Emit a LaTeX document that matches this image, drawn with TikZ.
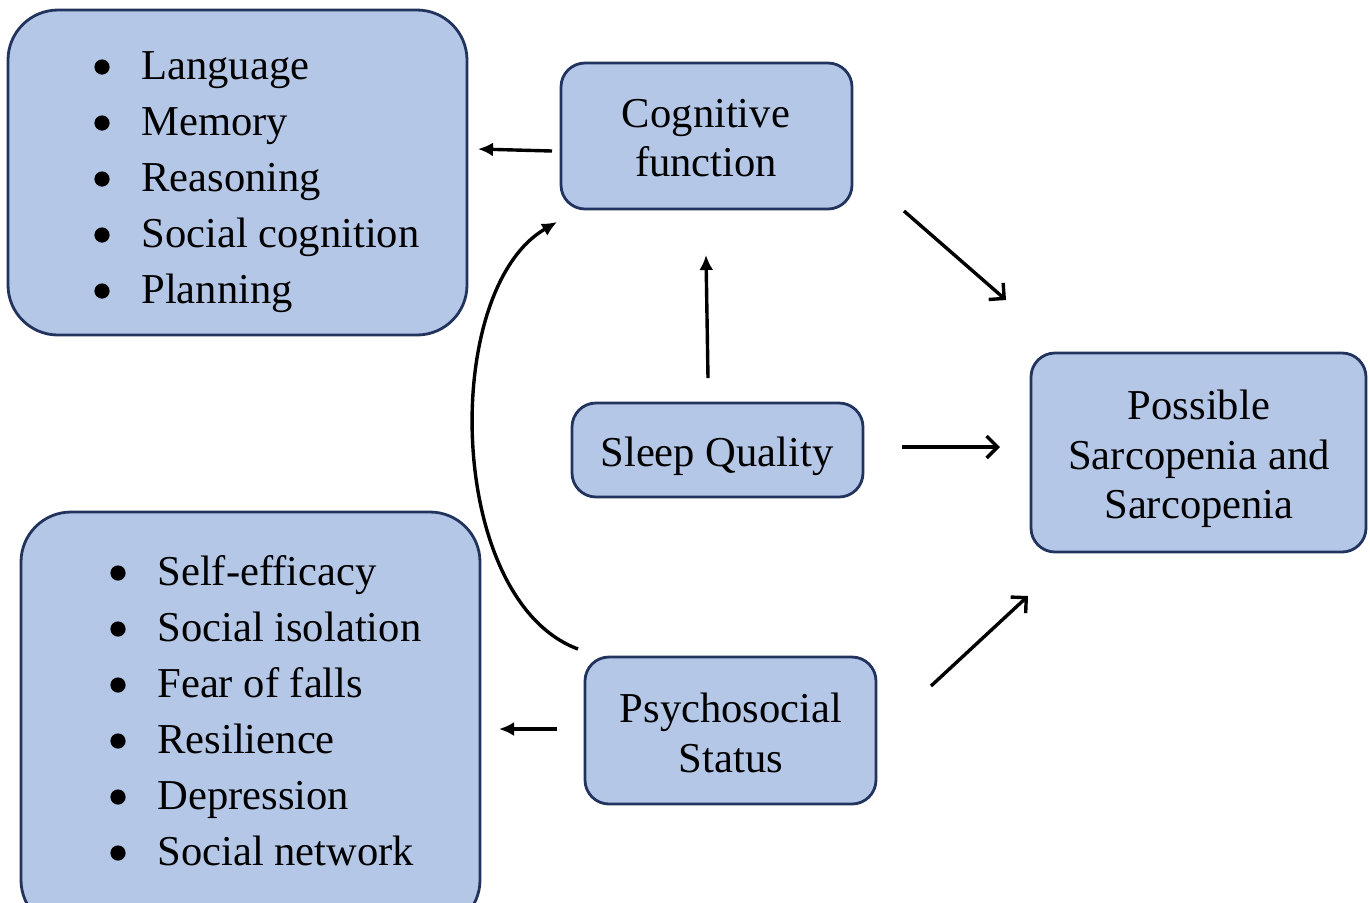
\documentclass[tikz,border=0pt]{standalone}
\usepackage{fontspec}
\setmainfont{Liberation Serif}
\usetikzlibrary{arrows.meta}
\definecolor{boxfill}{HTML}{B4C7E7}
\definecolor{boxline}{HTML}{22345E}
\tikzset{
  box/.style={draw=boxline, line width=1.4pt, fill=boxfill, rounded corners=#1, inner sep=0pt},
  box/.default=12pt,
  txt/.style={font=\fontsize{21.3}{24.8}\selectfont, align=center, inner sep=0pt},
  item/.style={font=\fontsize{21.3}{24.8}\selectfont, anchor=base west, inner sep=0pt},
  dot/.style={circle, fill=black, minimum size=7.6pt, inner sep=0pt},
  fillarrow/.style={line width=1.7pt, -{Latex[length=7.5pt,width=7pt]}},
  openarrow/.style={line width=1.7pt, -{Straight Barb[length=5.5pt,width=11pt,line width=1.7pt]}},
}
\begin{document}
\begin{tikzpicture}[x=0.5pt,y=-0.5pt]
\useasboundingbox (0,0) rectangle (1370,902);
\clip (0,0) rectangle (1370,902);
% boxes
\draw[box=25pt] (8,10) rectangle (467,335);
\draw[box=25pt] (21,512) rectangle (480,930);
\node[box=12pt, minimum width=145.5pt, minimum height=73pt] (cog) at (706.5,136) {};
\node[txt] (cogt) at (706,138) {Cognitive\\function};
\node[box=12pt, minimum width=145.5pt, minimum height=47pt] (sleep) at (717.5,450) {};
\node[txt] (sleept) at (717,456) {Sleep Quality};
\node[box=12pt, minimum width=167.5pt, minimum height=99.5pt] (sarc) at (1198.5,452.5) {};
\node[txt] (sarct) at (1199,459) {Possible\\Sarcopenia and\\Sarcopenia};
\node[box=12pt, minimum width=145.5pt, minimum height=73.5pt] (psy) at (730.5,730.5) {};
\node[txt] (psyt) at (731,733) {Psychosocial\\Status};
% lists
\foreach \t [count=\i] in {Language,Memory,Reasoning,Social cognition,Planning}{
  \node[dot] (cb\i) at (102,{79+56*(\i-1)-12}) {};
  \node[item] (ci\i) at (141,{79+56*(\i-1)}) {\t};
}
\foreach \t [count=\i] in {Self-efficacy,Social isolation,Fear of falls,Resilience,Depression,Social network}{
  \node[dot] (pb\i) at (118,{585+56*(\i-1)-12}) {};
  \node[item] (pi\i) at (157,{585+56*(\i-1)}) {\t};
}
% arrow endpoints
\coordinate (a1s) at (552,151); \coordinate (a1e) at (478,149);
\coordinate (a2s) at (904,211); \coordinate (a2e) at (1006,300);
\coordinate (a3s) at (708,378); \coordinate (a3e) at (706,255);
\coordinate (a4s) at (902,447); \coordinate (a4e) at (1000,447);
\coordinate (a5s) at (931,686); \coordinate (a5e) at (1028,596);
\coordinate (a6s) at (557,729); \coordinate (a6e) at (499,729);
\coordinate (a7s) at (578,649); \coordinate (a7e) at (557,222);
\draw[fillarrow] (a1s) -- (a1e);
\draw[openarrow] (a2s) -- (a2e);
\draw[fillarrow] (a3s) -- (a3e);
\draw[openarrow] (a4s) -- (a4e);
\draw[openarrow] (a5s) -- (a5e);
\draw[fillarrow] (a6s) -- (a6e);
\draw[fillarrow] (a7s) .. controls (446,600) and (440,290) .. (a7e);
\end{tikzpicture}
\end{document}
